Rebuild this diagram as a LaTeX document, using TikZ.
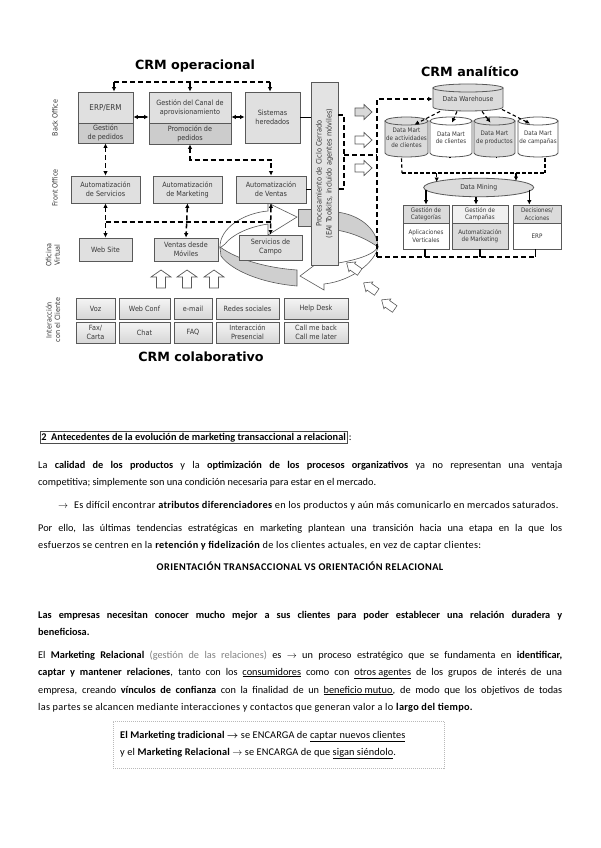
\documentclass[tikz,border=0pt]{standalone}
\usepackage{fontspec}
\setmainfont{Carlito}
\newfontfamily\dfont[FakeStretch=0.9]{DejaVu Sans}
\newfontfamily\tfont{DejaVu Sans}
\usetikzlibrary{arrows.meta,calc,shapes.geometric}
\definecolor{bline}{gray}{0.35}
\definecolor{btext}{gray}{0.22}
\definecolor{bfill}{gray}{0.88}
\definecolor{bfillb}{gray}{0.80}
\newcommand{\bx}[7]{\node[box,#6,minimum width={(#4-#2)*1pt},minimum height={(#5-#3)*1pt}] (#1) at ({(#2+#4)/2},{(#3+#5)/2}) {#7};}
\newcommand{\sbx}[7]{\node[sbox,#6,minimum width={(#4-#2)*1pt},minimum height={(#5-#3)*1pt}] (#1) at ({(#2+#4)/2},{(#3+#5)/2}) {#7};}
\newcommand{\jl}[1]{\makebox[524pt][s]{#1}}
\newcommand{\cyl}[6]{% name, x1, x2, ytop, ybot, fill
  \filldraw[fill=#6,draw=bline,line width=0.8pt] (#2,#4) -- (#2,#5) .. controls (#2,#5+5.3) and (#3,#5+5.3) .. (#3,#5) -- (#3,#4) -- cycle;
  \filldraw[fill=#6,draw=bline,line width=0.8pt] ({(#2+#3)/2},#4) ellipse [x radius={(#3-#2)/2}, y radius=4];
}
\begin{document}
\begin{tikzpicture}[x=1pt,y=-1pt,
  box/.style={draw=bline,line width=0.8pt,inner sep=0pt,align=center,text=btext,font=\dfont\fontsize{7.2}{9}\selectfont},
  sbox/.style={box,font=\dfont\fontsize{6.2}{7.4}\selectfont},
  lbl/.style={inner sep=0pt,align=center,text=btext,font=\dfont\fontsize{7.2}{8.4}\selectfont,rotate=90},
  dline/.style={line width=1.5pt,dash pattern=on 5pt off 3pt},
  dlines/.style={line width=1.1pt,dash pattern=on 3.5pt off 2.5pt},
  tip/.style={-{Latex[length=4.5pt,width=4.5pt]}},
  btip/.style={{Latex[length=4.5pt,width=4.5pt]}-{Latex[length=4.5pt,width=4.5pt]}},
  title/.style={inner sep=0pt,font=\tfont\bfseries\fontsize{12.7}{14}\selectfont},
  hollow/.style={draw=bline,line width=0.7pt,fill=white},
  ribbon/.style={draw=bline,line width=0.6pt,fill=gray!38},
  txt/.style={anchor=base west,inner sep=0pt,font=\fontsize{10.3}{12}\selectfont},
  txtb/.style={txt,font=\bfseries\fontsize{10.3}{12}\selectfont},
]
\useasboundingbox (0,0) rectangle (600,848);
\fill[white] (0,0) rectangle (600,848);

% ---------------- titles
\node[title] (t1) at (195,66) {CRM operacional};
\node[title] (t2) at (470,72) {CRM analítico};
\node[title] (t3) at (201,357) {CRM colaborativo};

% ---------------- row labels
\node[lbl] (l1) at (55,118) {Back Office};
\node[lbl] (l2) at (55,188) {Front Office};
\node[lbl] (l3) at (53,255) {Oficina\\Virtual};
\node[lbl] (l4) at (53,320) {Interacción\\con el Cliente};

% ---------------- ribbon (behind the bar)
\filldraw[ribbon] (220,247) .. controls (238,260) and (268,268) .. (297,270) -- (297,286) .. controls (262,283) and (232,271) .. (221,256) -- cycle;
\filldraw[hollow,line width=0.6pt] (220,248) .. controls (219,228) and (244,213) .. (268,211) -- (268,203) -- (297,217) -- (268,235) -- (268,224) .. controls (248,227) and (232,235) .. (225,244) -- cycle;
\filldraw[ribbon] (298,209) rectangle (312,226);
\filldraw[ribbon] (336,212) .. controls (358,214) and (377,228) .. (378,247) .. controls (371,242) and (356,233) .. (336,230) -- cycle;
\filldraw[hollow,line width=0.6pt] (378,247) .. controls (373,256) and (350,262) .. (324,265) -- (324,258) -- (300,276) -- (324,290) -- (324,284) .. controls (352,281) and (375,262) .. (378,247) -- cycle;
\foreach \cx/\cy in {354/268,371/288,389/305}{
  \begin{scope}[shift={(\cx,\cy)},rotate=-35]
    \filldraw[hollow,line width=0.6pt] (-9,0) -- (-2,-6) -- (-2,-4) -- (7,-4) -- (7,4) -- (-2,4) -- (-2,6) -- cycle;
  \end{scope}
}

% ---------------- back office
\bx{erp}{78}{92}{133}{123}{fill=bfill}{\fontsize{8}{9}\selectfont ERP/ERM}
\bx{erpb}{78}{123}{133}{143}{fill=bfillb}{Gestión\\de pedidos}
\bx{canal}{149}{92}{231}{123}{fill=bfill}{Gestión del Canal de\\aprovisionamiento}
\bx{canalb}{149}{123}{231}{144}{fill=bfillb}{Promoción de\\pedidos}
\bx{sist}{245}{92}{300}{143}{fill=bfill}{Sistemas\\heredados}

% ---------------- bar
\bx{bar}{311}{82}{338}{265}{fill=gray!22}{}
\node[lbl,font=\dfont\fontsize{7.4}{10}\selectfont] (bartxt) at (bar.center) {Procesamiento de Ciclo Cerrado\\(EAI Toolkits, incluido agentes móviles)};

% ---------------- front office
\bx{serv}{71}{176}{140}{203}{fill=bfill}{Automatización\\de Servicios}
\bx{mark}{153}{176}{222}{203}{fill=bfill}{Automatización\\de Marketing}
\bx{vent}{236}{176}{306}{203}{fill=bfill}{Automatización\\de Ventas}

% ---------------- oficina virtual
\bx{web}{79}{238}{132}{261}{fill=bfill}{Web Site}
\bx{movil}{154}{238}{218}{261}{fill=bfill}{Ventas desde\\Móviles}
\bx{campo}{239}{235}{302}{260}{fill=bfill}{Servicios de\\Campo}

% ---------------- interaction boxes
\tikzset{ibox/.style={top color=gray!8,bottom color=gray!32}}
\bx{voz}{76}{298}{115}{319}{ibox}{Voz}
\bx{wconf}{119}{298}{170}{319}{ibox}{Web Conf}
\bx{mail}{174}{298}{212}{319}{ibox}{e-mail}
\bx{redes}{216}{298}{279}{319}{ibox}{Redes sociales}
\bx{help}{284}{298}{348}{319}{ibox}{Help Desk}
\bx{fax}{76}{322}{115}{343}{ibox}{Fax/\\Carta}
\bx{chat}{119}{322}{170}{343}{ibox}{Chat}
\bx{faq}{174}{322}{212}{343}{ibox}{FAQ}
\bx{pres}{216}{322}{279}{343}{ibox}{Interacción\\Presencial}
\bx{call}{284}{322}{348}{343}{ibox}{Call me back\\Call me later}

% ---------------- hollow up arrows
\foreach \c in {161,187,214}{
  \filldraw[hollow] (\c,270) -- (\c+10,277) -- (\c+4.5,277) -- (\c+4.5,288) -- (\c-4.5,288) -- (\c-4.5,277) -- (\c-10,277) -- cycle;
}
% hollow right arrows
\foreach \m/\f in {112/gray!30,140/white,168/white}{
  \filldraw[hollow,fill=\f] (355,\m-4) -- (364,\m-4) -- (364,\m-7.5) -- (372,\m) -- (364,\m+7.5) -- (364,\m+4) -- (355,\m+4) -- cycle;
}

% ---------------- operational connectors
\coordinate (ta) at (114,82);
\coordinate (tc) at (270,82);
\draw[dline] (ta) -- (tc);
\draw[dline,tip] (ta) -- (ta |- erp.north);
\draw[dline,tip] (canal.north |- ta) -- (canal.north);
\draw[dline,tip] (tc) -- (tc |- sist.north);
\draw[btip,line width=1.3pt] (erp.east |- 0,117) -- (canal.west |- 0,117);
\draw[btip,line width=1.3pt] (canal.east |- 0,117) -- (sist.west |- 0,117);
\draw[line width=1.5pt] (sist.east) -- (sist.east -| bar.west);
\draw[line width=1.5pt] (vent.east) -- (vent.east -| bar.west);
\draw[dline,btip] (erpb.south) -- (serv.north);
\draw[dline,btip] (canalb.south) -- ++(0,15.5) -| (vent.north);
\coordinate (fa) at (105.5,222);
\draw[dline] (fa) -- (fa -| vent.south);
\draw[dline,btip] (serv.south) -- (web.north);
\draw[dline,btip] (mark.south) -- (movil.north);
\draw[dline,btip] (vent.south) -- (campo.north);

% ---------------- bar to analytic
\coordinate (ra) at (344,115);
\coordinate (rb) at (344,155);
\coordinate (fr) at (377,155);
\draw[dline] (bar.east |- ra) -- (ra) -- (344,189) -- (bar.east |- 0,189);
\draw[dline] (rb) -- (fr);

% ---------------- analytic
\cyl{dwc}{433}{503}{88}{107}{gray!28}
\node[sbox,draw=none,minimum width=70pt,minimum height=24pt,font=\dfont\fontsize{6.8}{8}\selectfont] (dw) at (468,99) {Data Warehouse};
\cyl{c1}{385}{428}{121}{153}{gray!28}
\cyl{c2}{430}{472}{121}{153}{white}
\cyl{c3}{474}{515}{121}{153}{gray!28}
\cyl{c4}{518}{558}{121}{153}{white}
\node[sbox,draw=none,minimum width=43pt,minimum height=38pt] (dm1) at (406.5,138) {Data Mart\\de actividades\\de clientes};
\node[sbox,draw=none,minimum width=42pt,minimum height=38pt] (dm2) at (451,138) {Data Mart\\de clientes};
\node[sbox,draw=none,minimum width=41pt,minimum height=38pt] (dm3) at (494.5,138) {Data Mart\\de productos};
\node[sbox,draw=none,minimum width=40pt,minimum height=38pt] (dm4) at (538,138) {Data Mart\\de campañas};

\coordinate (fbl) at (377,257);
\draw[dline,tip] (fbl) |- (dw.west);
\draw[dline] (fbl) -- (536,257);

\draw[dlines,tip] ($(dw.south)+(-28,0)$) -- ($(dm1.north)+(8,6)$);
\draw[dlines,tip] ($(dw.south)+(-11,0)$) -- ($(dm2.north)+(1,4)$);
\draw[dlines,tip] ($(dw.south)+(14,0)$) -- ($(dm3.north)+(-4,4)$);
\draw[dlines,tip] ($(dw.south)+(34,-2)$) -- ($(dm4.north)+(-8,5)$);

\coordinate (ml) at (402,173);
\coordinate (mr) at (545,173);
\draw[dlines] (ml) -- (mr);
\draw[dlines] ($(dm1.south)+(-5,1)$) -- (ml);
\draw[dlines] ($(dm2.south)+(-1,1)$) -- ($(dm2.south)+(-1,0)$ |- ml);
\draw[dlines] ($(dm3.south)+(2,1)$) -- ($(dm3.south)+(2,0)$ |- ml);
\draw[dlines] ($(dm4.south)+(7,1)$) -- (mr);

\node[draw=bline,line width=0.8pt,fill=gray!28,ellipse,minimum width=110pt,minimum height=18.5pt,inner sep=0pt,text=btext,font=\dfont\fontsize{6.8}{8}\selectfont] (dmine) at (478.7,187.5) {Data Mining};
\draw[dlines,tip] (436.7,173) -- ($(dmine.center)+(-42,-5.5)$);
\draw[dlines,tip] (516,173) -- ($(dmine.center)+(37.3,-6.5)$);

\sbx{cat}{403}{205}{449}{223}{fill=gray!28}{Gestión de\\Categorías}
\sbx{catb}{403}{223}{449}{249}{fill=white}{Aplicaciones\\Verticales}
\sbx{camp}{452}{205}{508}{223}{fill=gray!12}{Gestión de\\Campañas}
\sbx{campb}{452}{223}{508}{249}{fill=gray!28}{Automatización\\de Marketing}
\sbx{dec}{513}{205}{561}{223}{fill=gray!28}{Decisiones/\\Acciones}
\sbx{decb}{513}{223}{561}{249}{fill=white}{ERP}

\draw[line width=1.4pt,tip] ($(dmine.center)+(-52.7,2)$) -- (cat.north -| 426,0);
\draw[line width=1.4pt,tip] (dmine.south -| 476,0) -- (camp.north -| 476,0);
\draw[line width=1.4pt,tip] ($(dmine.center)+(50.6,2)$) -- (dec.north -| 529.3,0);
\draw[line width=1.4pt] (catb.south -| 425,0) -- (fbl -| 425,0);
\draw[line width=1.4pt] (campb.south -| 480,0) -- (fbl -| 480,0);
\draw[line width=1.4pt] (decb.south -| 535.5,0) -- (fbl -| 535.5,0);

% ================= text section
\node[txtb,draw=black!70,line width=0.5pt,inner sep=1.5pt] (h2) at (39.5,440) {2\ \ Antecedentes de la evolución de marketing transaccional a relacional};
\node[txt] (h2c) at ($(h2.east |- 0,440)+(1,0)$) {:};

\node[txt] (p1a) at (38,468) {\jl{La \textbf{calidad de los productos} y la \textbf{optimización de los procesos organizativos} ya no representan una ventaja}};
\node[txt] (p1b) at (38,485) {competitiva; simplemente son una condición necesaria para estar en el mercado.};
\node[txt] (p2) at (58,508) {$\rightarrow$\hspace{6pt}{\addfontfeature{LetterSpace=2.6}Es difícil encontrar \textbf{atributos diferenciadores} en los productos y aún más comunicarlo en mercados saturados.}};
\node[txt] (p3a) at (38,531) {\jl{Por ello, las últimas tendencias estratégicas en marketing plantean una transición hacia una etapa en la que los}};
\node[txt] (p3b) at (38,548) {\addfontfeature{LetterSpace=2.8}esfuerzos se centren en la \textbf{retención y fidelización} de los clientes actuales, en vez de captar clientes:};
\node[txtb,anchor=base,font=\bfseries\fontsize{10.3}{12}\selectfont\addfontfeature{LetterSpace=4.3}] (p4) at (300,570) {ORIENTACIÓN TRANSACCIONAL VS ORIENTACIÓN RELACIONAL};
\node[txtb] (p5a) at (38,618) {\jl{Las empresas necesitan conocer mucho mejor a sus clientes para poder establecer una relación duradera y}};
\node[txtb] (p5b) at (38,635) {beneficiosa.};
\node[txt] (p6a) at (38,658) {\jl{El \textbf{Marketing Relacional} {\color{gray}(gestión de las relaciones)} es $\rightarrow$ un proceso estratégico que se fundamenta en \textbf{identificar,}}};
\node[txt] (p6b) at (38,675) {\jl{\textbf{captar y mantener relaciones}, tanto con los \underline{consumidores} como con \underline{otros agentes} de los grupos de interés de una}};
\node[txt] (p6c) at (38,693) {\jl{empresa, creando \textbf{vínculos de confianza} con la finalidad de un \underline{beneficio mutuo}, de modo que los objetivos de todas}};
\node[txt] (p6d) at (38,710) {\addfontfeature{LetterSpace=2.8}las partes se alcancen mediante interacciones y contactos que generan valor a lo \textbf{largo del tiempo.}};

\node[draw=gray!55,line width=0.5pt,dash pattern=on 1pt off 1pt,minimum width=331pt,minimum height=47pt,inner sep=0pt] (frame) at (278.5,744.5) {};
\node[txt] (f1) at (120,738) {\addfontfeature{LetterSpace=1.2}\textbf{El Marketing tradicional {\boldmath$\rightarrow$}} se ENCARGA de \underline{captar nuevos clientes}};
\node[txt] (f2) at (120,755) {\addfontfeature{LetterSpace=1.2}y el \textbf{Marketing Relacional} $\rightarrow$ se ENCARGA de que \underline{sigan siéndolo}.};
\end{tikzpicture}
\end{document}
